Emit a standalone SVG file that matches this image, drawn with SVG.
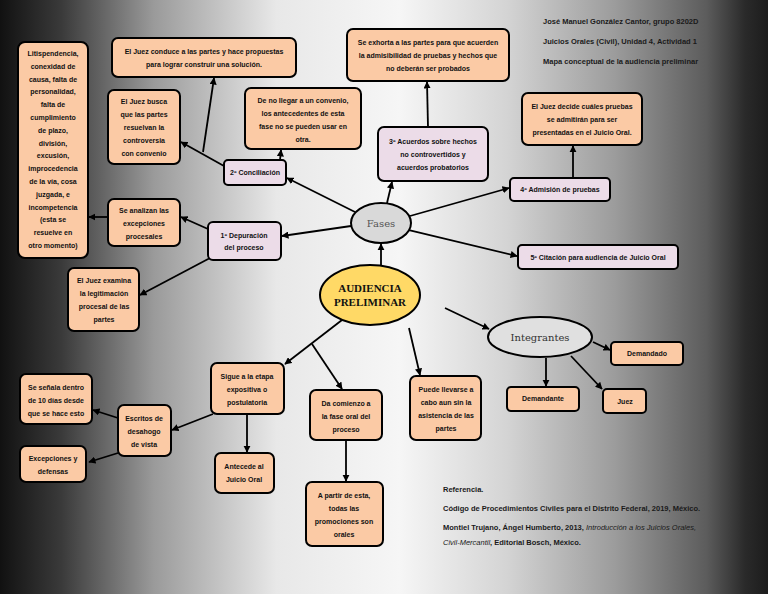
<svg xmlns="http://www.w3.org/2000/svg" width="768" height="594" viewBox="0 0 768 594">
<defs>
<linearGradient id="bg" x1="0" y1="0" x2="1" y2="0">
<stop offset="0" stop-color="#111"/>
<stop offset="0.08" stop-color="#3a3a3a"/>
<stop offset="0.2" stop-color="#9a9a9a"/>
<stop offset="0.36" stop-color="#e8e8e8"/>
<stop offset="0.52" stop-color="#f6f6f6"/>
<stop offset="0.66" stop-color="#d4d4d4"/>
<stop offset="0.8" stop-color="#9c9c9c"/>
<stop offset="0.92" stop-color="#5c5c5c"/>
<stop offset="0.97" stop-color="#2a2a2a"/>
<stop offset="1" stop-color="#1c1c1c"/>
</linearGradient>
<marker id="a" viewBox="0 0 10 10" refX="9" refY="5" markerWidth="4" markerHeight="4" orient="auto"><path d="M0,0L10,5L0,10z" fill="#000"/></marker>
</defs>
<style>
.p rect{fill:#fbcaa5;stroke:#000;stroke-width:2}
.k rect{fill:#ecdce8;stroke:#000;stroke-width:2}
text{font-family:"Liberation Sans",Arial,sans-serif;font-size:7px;font-weight:bold;fill:#111;text-anchor:middle}
.h{text-anchor:start;font-size:7.5px;fill:#1a1a1a}
#edges line,#edges path{stroke:#000;stroke-width:1.8;fill:none}
</style>
<rect width="768" height="594" fill="url(#bg)"/>
<g id="edges">
<line x1="381" y1="265" x2="381" y2="244" marker-end="url(#a)"/>
<line x1="355" y1="212" x2="287" y2="178" marker-end="url(#a)"/>
<line x1="351" y1="226" x2="282" y2="236" marker-end="url(#a)"/>
<line x1="387" y1="203" x2="392" y2="182" marker-end="url(#a)"/>
<line x1="410" y1="216" x2="509" y2="188" marker-end="url(#a)"/>
<line x1="409" y1="230" x2="517" y2="256" marker-end="url(#a)"/>
<line x1="428" y1="127" x2="427" y2="82" marker-end="url(#a)"/>
<line x1="573" y1="178" x2="573" y2="146" marker-end="url(#a)"/>
<line x1="280" y1="160" x2="281" y2="150" marker-end="url(#a)"/>
<line x1="224" y1="166" x2="181" y2="142" marker-end="url(#a)"/>
<line x1="203" y1="152" x2="214" y2="78" marker-end="url(#a)"/>
<line x1="208" y1="229" x2="181" y2="217" marker-end="url(#a)"/>
<line x1="108" y1="217" x2="89" y2="217" marker-end="url(#a)"/>
<line x1="210" y1="258" x2="140" y2="295" marker-end="url(#a)"/>
<line x1="445" y1="308" x2="489" y2="329" marker-end="url(#a)"/>
<line x1="409" y1="328" x2="420" y2="375" marker-end="url(#a)"/>
<line x1="342" y1="320" x2="285" y2="364" marker-end="url(#a)"/>
<line x1="312" y1="344" x2="342" y2="389" marker-end="url(#a)"/>
<line x1="213" y1="414" x2="172" y2="430" marker-end="url(#a)"/>
<line x1="247" y1="414" x2="247" y2="452" marker-end="url(#a)"/>
<line x1="118" y1="418" x2="93" y2="410" marker-end="url(#a)"/>
<line x1="118" y1="453" x2="89" y2="462" marker-end="url(#a)"/>
<line x1="346" y1="440" x2="346" y2="481" marker-end="url(#a)"/>
<line x1="593" y1="342" x2="610" y2="350" marker-end="url(#a)"/>
<line x1="546" y1="358" x2="546" y2="386" marker-end="url(#a)"/>
<line x1="571" y1="356" x2="602" y2="389" marker-end="url(#a)"/>
</g>
<g id="audiencia"><ellipse cx="370" cy="295" rx="50" ry="30" fill="#ffd966" stroke="#000" stroke-width="2"/><text x="370" y="292" style="font-family:'Liberation Serif',serif;font-size:11px">AUDIENCIA</text><text x="370" y="306" style="font-family:'Liberation Serif',serif;font-size:11px">PRELIMINAR</text></g>
<g id="fases"><ellipse cx="381" cy="223" rx="30" ry="20" fill="#d9d9d9" stroke="#000" stroke-width="2"/><text x="381" y="227" style="font-family:'DejaVu Serif',serif;font-size:10px;font-weight:normal;fill:#555">Fases</text></g>
<g id="integrantes"><ellipse cx="540" cy="337" rx="52" ry="20" fill="#e0e0e0" stroke="#000" stroke-width="2"/><text x="540" y="341" style="font-family:'DejaVu Serif',serif;font-size:10px;font-weight:normal;fill:#333">Integrantes</text></g>
<g id="litis" class="p"><rect x="18" y="42" width="70" height="216" rx="7"/><text x="53" y="56">Litispendencia,</text><text x="53" y="68.8">conexidad de</text><text x="53" y="81.6">causa, falta de</text><text x="53" y="94.4">personalidad,</text><text x="53" y="107.2">falta de</text><text x="53" y="120">cumplimiento</text><text x="53" y="132.8">de plazo,</text><text x="53" y="145.6">división,</text><text x="53" y="158.4">excusión,</text><text x="53" y="171.2">improcedencia</text><text x="53" y="184">de la vía, cosa</text><text x="53" y="196.8">juzgada, e</text><text x="53" y="209.6">incompetencia</text><text x="53" y="222.4">(esta se</text><text x="53" y="235.2">resuelve en</text><text x="53" y="248">otro momento)</text></g>
<g id="conduce" class="p"><rect x="112" y="38" width="184" height="39" rx="6"/><text x="204" y="54">El Juez conduce a las partes y hace propuestas</text><text x="204" y="67">para lograr construir una solución.</text></g>
<g id="busca" class="p"><rect x="108" y="90" width="72" height="74" rx="6"/><text x="144" y="104">El Juez busca</text><text x="144" y="117">que las partes</text><text x="144" y="130">resuelvan la</text><text x="144" y="143">controversia</text><text x="144" y="156">con convenio</text></g>
<g id="nollega" class="p"><rect x="245" y="88" width="116" height="61" rx="6"/><text x="303" y="103">De no llegar a un convenio,</text><text x="303" y="116">los antecedentes de esta</text><text x="303" y="129">fase no se pueden usar en</text><text x="303" y="142">otra.</text></g>
<g id="exhorta" class="p"><rect x="347" y="29" width="162" height="52" rx="6"/><text x="428" y="45">Se exhorta a las partes para que acuerden</text><text x="428" y="58">la admisibilidad de pruebas y  hechos que</text><text x="428" y="71">no deberán ser probados</text></g>
<g id="acuerdos" class="k"><rect x="378" y="127" width="110" height="54" rx="6"/><text x="433" y="144">3º Acuerdos sobre hechos</text><text x="433" y="157">no controvertidos y</text><text x="433" y="170">acuerdos probatorios</text></g>
<g id="decide" class="p"><rect x="522" y="93" width="120" height="52" rx="6"/><text x="582" y="109">El Juez decide cuáles pruebas</text><text x="582" y="122">se admitirán para ser</text><text x="582" y="135">presentadas en el Juicio Oral.</text></g>
<g id="admision" class="k"><rect x="510" y="178" width="100" height="23" rx="4"/><text x="560" y="192">4º Admisión de pruebas</text></g>
<g id="conciliacion" class="k"><rect x="224" y="160" width="62" height="25" rx="4"/><text x="255" y="175">2º Conciliación</text></g>
<g id="analizan" class="p"><rect x="108" y="199" width="72" height="47" rx="6"/><text x="144" y="213">Se analizan las</text><text x="144" y="226">excepciones</text><text x="144" y="239">procesales</text></g>
<g id="depuracion" class="k"><rect x="208" y="222" width="73" height="38" rx="5"/><text x="244" y="238">1º Depuración</text><text x="244" y="250">del proceso</text></g>
<g id="citacion" class="k"><rect x="518" y="245" width="160" height="24" rx="4"/><text x="598" y="260">5º Citación para audiencia de Juicio Oral</text></g>
<g id="examina" class="p"><rect x="68" y="268" width="71" height="63" rx="6"/><text x="104" y="283">El Juez examina</text><text x="104" y="296">la legitimación</text><text x="104" y="309">procesal de las</text><text x="104" y="322">partes</text></g>
<g id="demandado" class="p"><rect x="611" y="342" width="72" height="23" rx="4"/><text x="647" y="356">Demandado</text></g>
<g id="demandante" class="p"><rect x="507" y="387" width="72" height="24" rx="4"/><text x="543" y="401">Demandante</text></g>
<g id="juez" class="p"><rect x="603" y="389" width="43" height="24" rx="4"/><text x="625" y="404">Juez</text></g>
<g id="puede" class="p"><rect x="410" y="376" width="71" height="64" rx="6"/><text x="446" y="392">Puede llevarse a</text><text x="446" y="405">cabo aun sin la</text><text x="446" y="418">asistencia de las</text><text x="446" y="431">partes</text></g>
<g id="sigue" class="p"><rect x="211" y="363" width="73" height="51" rx="6"/><text x="247" y="379">Sigue a la etapa</text><text x="247" y="392">expositiva o</text><text x="247" y="405">postulatoria</text></g>
<g id="comienzo" class="p"><rect x="310" y="390" width="72" height="50" rx="6"/><text x="346" y="406">Da comienzo a</text><text x="346" y="419">la fase oral del</text><text x="346" y="432">proceso</text></g>
<g id="escritos" class="p"><rect x="118" y="405" width="53" height="51" rx="6"/><text x="144" y="421">Escritos de</text><text x="144" y="434">desahogo</text><text x="144" y="447">de vista</text></g>
<g id="senala" class="p"><rect x="20" y="374" width="72" height="50" rx="6"/><text x="56" y="390">Se señala dentro</text><text x="56" y="403">de 10 días desde</text><text x="56" y="416">que se hace esto</text></g>
<g id="excepciones" class="p"><rect x="20" y="446" width="66" height="36" rx="6"/><text x="53" y="461">Excepciones y</text><text x="53" y="474">defensas</text></g>
<g id="antecede" class="p"><rect x="215" y="453" width="59" height="40" rx="6"/><text x="244" y="469">Antecede al</text><text x="244" y="482">Juicio Oral</text></g>
<g id="apartir" class="p"><rect x="306" y="482" width="77" height="64" rx="6"/><text x="344" y="498">A partir de esta,</text><text x="344" y="511">todas las</text><text x="344" y="524">promociones son</text><text x="344" y="537">orales</text></g>
<g id="header"><text class="h" x="543" y="24">José Manuel González Cantor, grupo 8202D</text><text class="h" x="543" y="44">Juicios Orales (Civil), Unidad 4, Actividad 1</text><text class="h" x="543" y="64">Mapa conceptual de la audiencia preliminar</text></g>
<g id="refs"><text class="h" x="443" y="492">Referencia.</text><text class="h" x="443" y="511">Código de Procedimientos Civiles para el Distrito Federal, 2019, México.</text><text class="h" x="443" y="530">Montiel Trujano, Ángel Humberto, 2013, <tspan font-style="italic" font-weight="normal">Introducción a los Juicios Orales,</tspan></text><text class="h" x="443" y="545"><tspan font-style="italic" font-weight="normal">Civil-Mercantil</tspan>, Editorial Bosch, México.</text></g>
</svg>
